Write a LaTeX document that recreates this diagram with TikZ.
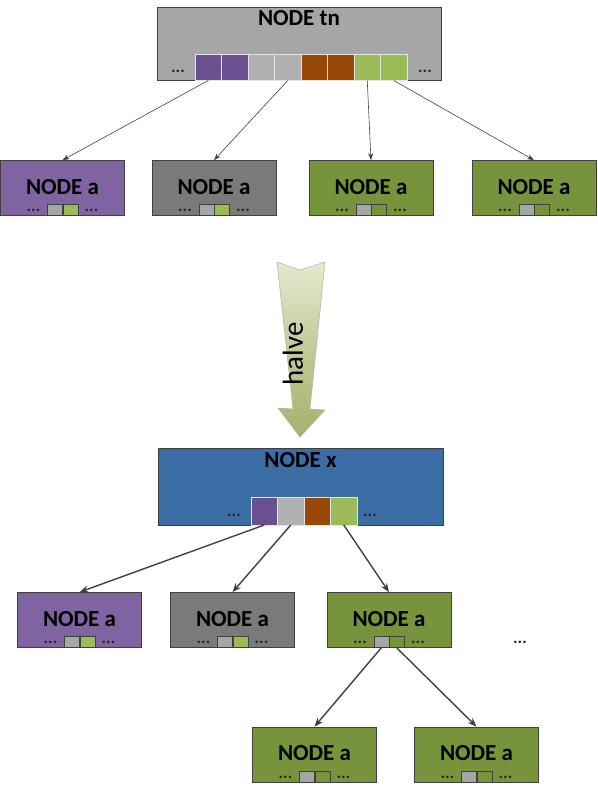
\documentclass[tikz,border=0pt]{standalone}
\usepackage{fontspec}
\setmainfont{Carlito}
\usetikzlibrary{arrows.meta}
\definecolor{tnfill}{HTML}{A6A6A6}
\definecolor{purp}{HTML}{8064A2}
\definecolor{purpslot}{HTML}{6A5090}
\definecolor{grayn}{HTML}{7A7A7A}
\definecolor{greenn}{HTML}{77933C}
\definecolor{greenslot}{HTML}{9BBB59}
\definecolor{brownslot}{HTML}{984807}
\definecolor{lgslot}{HTML}{B0B0B0}
\definecolor{slotgray}{HTML}{A6A6A6}
\definecolor{bluen}{HTML}{3B6EA5}
\definecolor{bord}{HTML}{404040}
\definecolor{arr}{HTML}{404040}
\definecolor{halvetop}{HTML}{E3EACF}
\definecolor{halvebot}{HTML}{A3B26C}
\tikzset{
  bigbox/.style={draw=bord, line width=0.7pt, inner sep=0pt},
  leaf/.style={draw=bord, line width=0.7pt, minimum width=124pt, minimum height=55pt, inner sep=0pt},
  title/.style={font=\fontsize{23}{26}\selectfont\bfseries, inner sep=0pt, text=black},
  bslot/.style={draw=white!80!gray, line width=0.5pt, minimum width=26.5pt, minimum height=26pt, inner sep=0pt, anchor=south},
  sslot/.style={draw=bord, line width=0.5pt, minimum width=15pt, minimum height=11pt, inner sep=0pt},
  dots/.style={font=\fontsize{17}{18}\selectfont\bfseries, inner sep=0pt, text=black!85},
  thinarr/.style={draw=arr, line width=0.6pt, -{Stealth[length=7pt,width=5pt]}},
  thickarr/.style={draw=arr, line width=1.4pt, -{Stealth[length=9pt,width=7pt]}}
}
\newcommand{\mkleaf}[4]{%
  \node[leaf, fill=#3] (#1) at (#2) {};
  \node[title] (#1t) at ([yshift=1pt]#1.center) {NODE a};
  \node[sslot, fill=slotgray, anchor=south east] (#1g) at (#1.south) {};
  \node[sslot, fill=#4, anchor=south west] (#1r) at (#1.south) {};
  \node[dots] (#1dl) at ([xshift=-29pt,yshift=5pt]#1.south) {...};
  \node[dots] (#1dr) at ([xshift=29pt,yshift=5pt]#1.south) {...};
}
\begin{document}
\begin{tikzpicture}[x=1pt,y=-1pt]
\useasboundingbox (0,0) rectangle (597,787);
% top node
\node[bigbox, fill=tnfill, minimum width=284pt, minimum height=73pt] (tn) at (299,43.5) {};
\node[title] (tnt) at (299,18) {NODE tn};
\node[bslot, fill=purpslot] (s1) at (208.25,80.5) {};
\node[bslot, fill=purpslot] (s2) at (234.75,80.5) {};
\node[bslot, fill=lgslot] (s3) at (261.25,80.5) {};
\node[bslot, fill=lgslot] (s4) at (287.75,80.5) {};
\node[bslot, fill=brownslot] (s5) at (314.25,80.5) {};
\node[bslot, fill=brownslot] (s6) at (340.75,80.5) {};
\node[bslot, fill=greenslot] (s7) at (367.25,80.5) {};
\node[bslot, fill=greenslot] (s8) at (393.75,80.5) {};
\node[dots] (tnl) at (178,71) {...};
\node[dots] (tnr) at (425,71) {...};
% level 1
\mkleaf{a1}{62.5,188}{purp}{greenslot}
\mkleaf{a2}{214,188}{grayn}{greenslot}
\mkleaf{a3}{371,188}{greenn}{greenn}
\mkleaf{a4}{534,188}{greenn}{greenn}
\draw[thinarr] (s1.south) -- (a1.north);
\draw[thinarr] (s4.south) -- (a2.north);
\draw[thinarr] (s7.south) -- (a3.north);
\draw[thinarr] (s8.south) -- (a4.north);
% halve arrow
\shade[top color=halvetop, bottom color=halvebot, middle color=halvetop!45!halvebot, draw=gray!60, line width=0.5pt]
  (277,262) -- (300,270) -- (325,262) -- (310,409) -- (325,410) -- (300,437) -- (278,408) -- (293,409) -- cycle;
\node[font=\fontsize{29}{30}\selectfont, rotate=90, inner sep=0pt] (hv) at (293,354) {halve};
% node x
\node[bigbox, fill=bluen, minimum width=285pt, minimum height=77pt] (nx) at (300.5,486.5) {};
\node[title] (nxt) at (300.5,460) {NODE x};
\node[bslot, fill=purpslot, minimum height=28pt] (x1) at (264.25,525) {};
\node[bslot, fill=lgslot, minimum height=28pt] (x2) at (290.75,525) {};
\node[bslot, fill=brownslot, minimum height=28pt] (x3) at (317.25,525) {};
\node[bslot, fill=greenslot, minimum height=28pt] (x4) at (343.75,525) {};
\node[dots] (nxl) at (234,515) {...};
\node[dots] (nxr) at (370,515) {...};
% level 2
\mkleaf{b1}{79.5,620}{purp}{greenslot}
\mkleaf{b2}{232.5,620}{grayn}{greenslot}
\mkleaf{b3}{389,620}{greenn}{greenn}
\node[dots] (more) at (520,642) {...};
\draw[thickarr] (x1.south) -- (b1.north);
\draw[thickarr] (x2.south) -- (b2.north);
\draw[thickarr] (x4.south) -- (b3.north);
% level 3
\mkleaf{c1}{314.5,754.5}{greenn}{greenn}
\mkleaf{c2}{476.5,754.5}{greenn}{greenn}
\draw[thickarr] (b3g.south) -- (c1.north);
\draw[thickarr] (b3r.south) -- (c2.north);
\end{tikzpicture}
\end{document}
